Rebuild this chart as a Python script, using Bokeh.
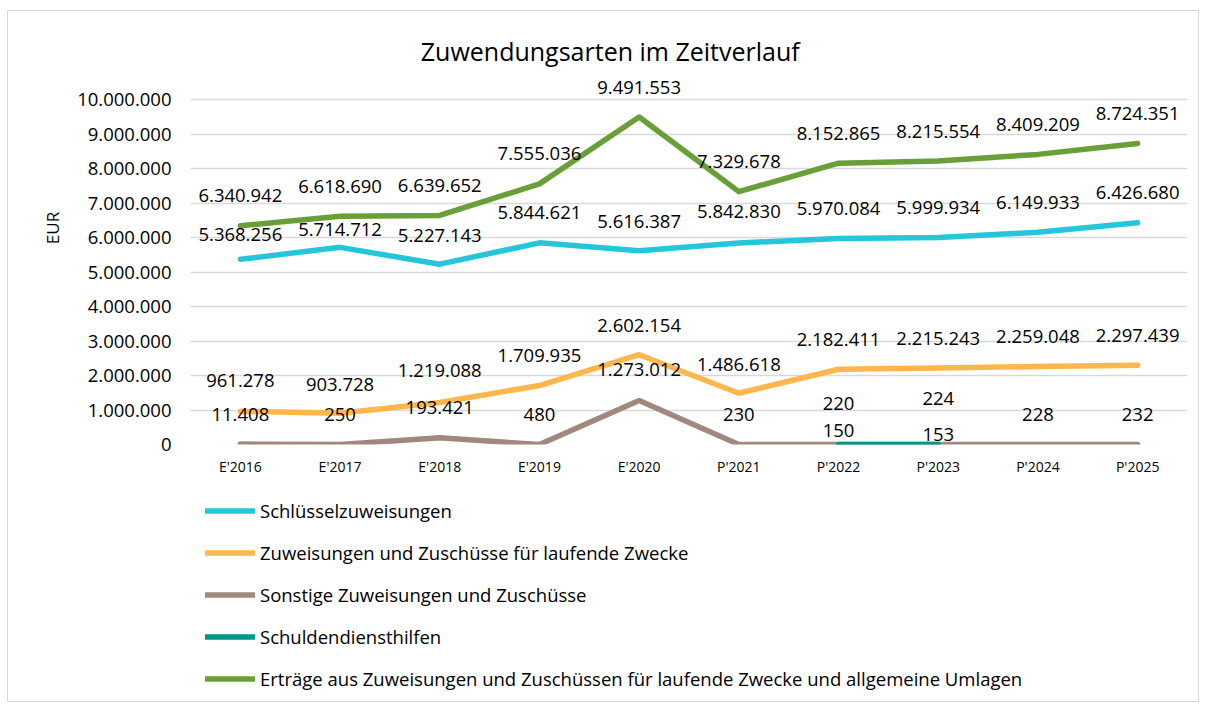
import math
from bokeh.plotting import figure
from bokeh.layouts import column
from bokeh.models import (ColumnDataSource, LabelSet, Legend, LegendItem, Range1d,
                          FixedTicker, CustomJSTickFormatter, Label, FactorRange)
from bokeh.core.properties import value
from bokeh.embed import file_html
from bokeh.resources import INLINE

NaN = float("nan")

categories = ["E'2016", "E'2017", "E'2018", "E'2019", "E'2020",
              "P'2021", "P'2022", "P'2023", "P'2024", "P'2025"]
schluesselzuweisungen = [5368256, 5714712, 5227143, 5844621, 5616387,
                         5842830, 5970084, 5999934, 6149933, 6426680]
laufende_zwecke = [961278, 903728, 1219088, 1709935, 2602154,
                   1486618, 2182411, 2215243, 2259048, 2297439]
sonstige = [11408, 250, 193421, 480, 1273012, 230, 220, 224, 228, 232]
schuldendiensthilfen = [NaN, NaN, NaN, NaN, NaN, NaN, 150, 153, NaN, NaN]
ertraege = [6340942, 6618690, 6639652, 7555036, 9491553,
            7329678, 8152865, 8215554, 8409209, 8724351]

series_names = ["Schlüsselzuweisungen",
                "Zuweisungen und Zuschüsse für laufende Zwecke",
                "Sonstige Zuweisungen und Zuschüsse",
                "Schuldendiensthilfen",
                "Erträge aus Zuweisungen und Zuschüssen für laufende Zwecke und allgemeine Umlagen"]
y_ticks = [0, 1000000, 2000000, 3000000, 4000000, 5000000,
           6000000, 7000000, 8000000, 9000000, 10000000]
title_text = "Zuwendungsarten im Zeitverlauf"

# styles / layout
colors = ["#26C6DA", "#FFB74D", "#A1887F", "#009688", "#689F38"]
label_offsets = [
    [25, 18, 29, 30, 29, 31, 30, 30, 30, 30],
    [31, 29, 32, 30, 29, 29, 30, 30, 30, 30],
    [30, 30, 30, 30, 31, 30, 41, 46, 30, 30],
    [0, 0, 0, 0, 0, 0, 14, 10, 0, 0],
    [30, 30, 30, 30, 30, 30, 30, 30, 30, 30],
]
FONT = "Open Sans"
W = 1190
AXIS_PX = 345          # pixels between 0 and 10.000.000
FRAME_PX = 433         # frame height incl. room above the axis for title
y_end = 10000000 * FRAME_PX / AXIS_PX

def fmt(v):
    return f"{int(v):,}".replace(",", ".")

p = figure(x_range=FactorRange(*categories), y_range=Range1d(0, y_end),
           width=W, height=479, output_backend="svg", toolbar_location=None,
           min_border_left=182, min_border_right=11, min_border_top=0,
           min_border_bottom=46)
p.outline_line_color = None
p.background_fill_color = "white"
p.border_fill_color = "white"

p.xgrid.grid_line_color = None
p.ygrid.grid_line_color = "#d9d9d9"
p.ygrid.grid_line_width = 1.5

p.yaxis.ticker = FixedTicker(ticks=y_ticks)
p.yaxis.formatter = CustomJSTickFormatter(
    code=r"return tick.toFixed(0).replace(/\B(?=(\d{3})+(?!\d))/g, '.');")
p.yaxis.axis_line_color = None
p.yaxis.major_tick_line_color = None
p.yaxis.minor_tick_line_color = None
p.yaxis.major_tick_out = 0
p.yaxis.major_tick_in = 0
p.yaxis.major_label_text_font = FONT
p.yaxis.major_label_text_font_size = "18.5px"
p.yaxis.major_label_text_color = "#000000"
p.yaxis.major_label_standoff = 19
p.yaxis.axis_label = "EUR"
p.yaxis.axis_label_text_font = FONT
p.yaxis.axis_label_text_font_style = "normal"
p.yaxis.axis_label_text_font_size = "17px"
p.yaxis.axis_label_text_color = "#000000"
p.yaxis.axis_label_standoff = 10

p.xaxis.axis_line_color = None
p.xaxis.major_tick_line_color = None
p.xaxis.major_tick_out = 0
p.xaxis.major_tick_in = 0
p.xaxis.major_label_text_font = FONT
p.xaxis.major_label_text_font_size = "14px"
p.xaxis.major_label_text_color = "#000000"
p.xaxis.major_label_standoff = 12

# legend figure
pl = figure(x_range=(0, 1), y_range=(0, 1), width=W, height=211,
            output_backend="svg", toolbar_location=None,
            x_axis_location=None, y_axis_location=None,
            min_border=0, min_border_left=0, min_border_right=0,
            min_border_top=0, min_border_bottom=0)
pl.outline_line_color = None
pl.grid.visible = False

all_series = [schluesselzuweisungen, laufende_zwecke, sonstige,
              schuldendiensthilfen, ertraege]
items = []
for name, vals, col, offs in zip(series_names, all_series, colors, label_offsets):
    src = ColumnDataSource(dict(x=categories, y=vals))
    p.line("x", "y", source=src, line_color=col, line_width=5.5,
           line_cap="round", line_join="round")
    lr = pl.line([NaN, NaN], [NaN, NaN], line_color=col, line_width=5.5,
                 line_cap="round")
    items.append(LegendItem(label=name, renderers=[lr]))
    lx, ly, lt, lo = [], [], [], []
    for c, v, o in zip(categories, vals, offs):
        if not math.isnan(v):
            lx.append(c); ly.append(v); lt.append(fmt(v)); lo.append(o)
    lsrc = ColumnDataSource(dict(x=lx, y=ly, t=lt, o=lo))
    p.add_layout(LabelSet(x="x", y="y", text="t", source=lsrc, y_offset="o",
                          text_align="center", text_baseline="middle",
                          text_font=value(FONT), text_font_size="18.5px",
                          text_color="#000000"))

legend = Legend(items=items, orientation="vertical", location=(15, 10),
                glyph_width=50, glyph_height=25, label_height=25,
                label_standoff=5, spacing=17, padding=0, margin=0,
                label_text_font=FONT, label_text_font_size="18.5px",
                label_text_color="#000000",
                border_line_color=None, background_fill_alpha=0)
pl.add_layout(legend)

p.add_layout(Label(x=4.21, y=10000000 * (444 - 50) / AXIS_PX, text=title_text,
                   text_align="center", text_baseline="middle",
                   text_font=FONT, text_font_size="25px", text_color="#000000"))

layout = column(p, pl, spacing=0)
layout.styles = {"border": "1px solid #d9d9d9", "margin-left": "7px",
                 "margin-top": "10px"}

open("out.html", "w").write(file_html(layout, INLINE))
